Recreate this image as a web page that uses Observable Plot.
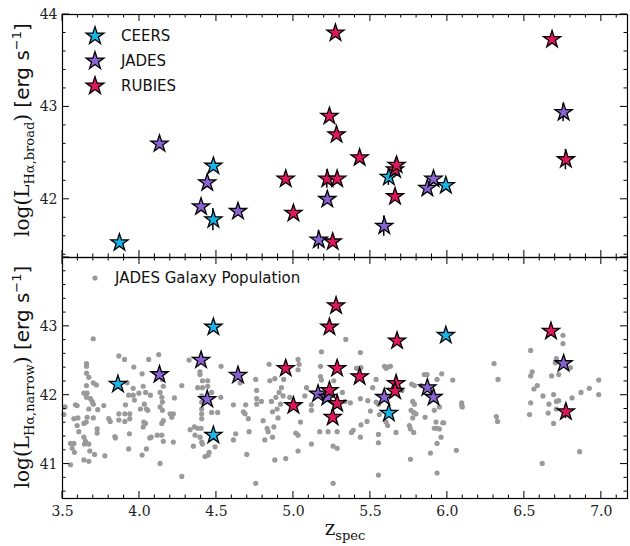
<!DOCTYPE html>
<html><head><meta charset="utf-8">
<script src="https://cdn.jsdelivr.net/npm/d3@7"></script>
<script src="https://cdn.jsdelivr.net/npm/@observablehq/plot@0.6"></script>
<style>
body{margin:0;background:#fff;}
#wrap{position:relative;width:630px;height:546px;}
#wrap svg{display:block;}
</style></head><body><div id="wrap"></div>
<script>
// ---------- data ----------
const surveys = ["CEERS", "JADES", "RUBIES"];
const surveyColors = ["#19b5e8", "#8a63d2", "#e0175f"];

// top panel: broad H-alpha
const broadSurvey = ["CEERS","CEERS","CEERS","CEERS","CEERS",
  "JADES","JADES","JADES","JADES","JADES","JADES","JADES","JADES","JADES","JADES",
  "RUBIES","RUBIES","RUBIES","RUBIES","RUBIES","RUBIES","RUBIES","RUBIES","RUBIES","RUBIES","RUBIES","RUBIES","RUBIES","RUBIES"];
const broadZ = [3.87,4.48,4.48,5.62,5.99,
  4.13,4.44,4.40,4.64,5.165,5.22,5.59,5.87,5.91,6.755,
  4.95,5.00,5.22,5.234,5.255,5.273,5.28,5.284,5.43,5.66,5.67,5.66,6.68,6.77];
const broadLum = [41.53,42.36,41.78,42.24,42.15,
  42.60,42.18,41.92,41.87,41.56,42.00,41.71,42.12,42.22,42.94,
  42.22,41.85,42.22,42.90,41.54,43.80,42.70,42.22,42.45,42.32,42.37,42.03,43.73,42.43];
const broadErr = [0,0,0.12,0.09,0,
  0,0,0,0,0.1,0,0.11,0,0,0.1,
  0,0,0.1,0,0,0,0,0,0,0,0.08,0,0,0.11];

// bottom panel: narrow H-alpha
const narrowSurvey = ["CEERS","CEERS","CEERS","CEERS","CEERS",
  "JADES","JADES","JADES","JADES","JADES","JADES","JADES","JADES","JADES","JADES",
  "RUBIES","RUBIES","RUBIES","RUBIES","RUBIES","RUBIES","RUBIES","RUBIES","RUBIES","RUBIES","RUBIES","RUBIES","RUBIES","RUBIES"];
const narrowZ = [3.86,4.48,4.48,5.62,5.99,
  4.13,4.40,4.44,4.64,5.16,5.22,5.59,5.87,5.91,6.755,
  4.95,5.00,5.234,5.277,5.284,5.43,5.234,5.284,5.255,5.667,5.66,5.673,6.673,6.77];
const narrowLum = [42.16,42.99,41.42,41.74,42.87,
  42.30,42.51,41.94,42.29,42.02,41.97,41.97,42.11,41.97,42.46,
  42.39,41.85,42.99,43.30,42.39,42.27,42.07,41.88,41.68,42.17,42.06,42.79,42.93,41.76];
const narrowErr = [0,0,0,0,0,
  0,0,0,0,0,0,0,0,0,0,
  0,0,0,0,0,0,0,0,0,0,0,0,0,0.1];

// JADES galaxy population (grey points)
const galZ = [3.70,3.866,3.903,4.06,4.125,3.963,4.017,3.656,3.656,3.656,3.671,3.70,3.72,3.656,3.639,3.66,3.656,3.682,3.693,3.70,
  3.671,3.584,3.595,3.768,3.729,3.517,3.509,3.574,3.60,3.66,3.70,3.80,3.81,3.866,3.905,3.937,3.866,3.905,3.937,3.92,
  3.959,4.024,4.04,4.071,3.996,3.93,3.959,3.967,3.909,4.006,4.032,4.045,4.054,4.028,4.039,4.024,3.639,3.654,3.595,3.725,
  3.725,3.606,3.84,3.844,3.935,3.639,3.649,3.643,3.671,3.552,3.574,3.563,3.578,3.677,3.708,3.775,3.93,4.017,4.045,4.067,
  4.076,4.115,3.639,3.671,3.552,
  4.149,4.155,4.134,4.145,4.149,4.134,4.149,4.199,4.22,4.21,4.155,4.145,4.145,4.155,4.22,4.227,4.134,4.275,4.275,4.322,
  4.393,4.393,4.378,4.409,4.443,4.409,4.443,4.469,4.404,4.404,4.404,4.404,4.469,4.508,4.528,4.53,4.404,4.329,4.357,4.378,
  4.40,4.361,4.393,4.404,4.409,4.35,4.491,4.452,4.426,4.447,4.61,4.625,4.61,4.69,4.675,4.686,4.707,4.712,4.697,4.653,
  4.755,4.761,4.761,4.761,4.755,
  4.792,4.803,4.814,4.829,4.836,4.842,4.847,4.857,4.864,4.864,4.873,4.879,4.886,4.879,4.894,4.90,4.907,4.922,4.933,4.916,
  4.937,4.95,4.976,5.015,5.03,5.03,5.03,5.03,5.037,5.046,5.085,5.074,5.117,5.117,5.117,5.182,5.176,5.176,5.182,5.171,
  5.225,5.262,5.258,5.284,5.284,5.318,5.34,5.37,5.388,5.377,5.258,5.41,5.334,
  5.435,5.439,5.418,5.435,5.483,5.515,5.537,5.537,5.50,5.552,5.558,5.478,5.439,5.435,5.552,5.552,5.552,5.591,5.612,5.63,
  5.602,5.602,5.612,5.666,5.705,5.753,5.76,5.781,5.76,5.768,5.786,5.775,5.786,5.764,5.781,5.796,5.775,5.85,5.868,5.829,
  5.933,5.963,5.915,5.948,5.855,5.926,5.97,5.915,5.933,5.948,5.959,5.933,5.89,5.933,6.035,5.976,
  6.093,6.093,6.097,6.058,6.303,6.329,6.318,6.326,6.541,6.551,6.541,6.562,6.584,6.621,6.541,6.534,6.66,6.655,6.616,6.677,
  6.751,6.751,6.708,6.701,6.799,6.723,6.69,6.708,6.723,6.81,6.868,6.922,6.983,6.983,6.708,6.69,6.859];
const galLum = [42.82,42.57,42.52,42.52,42.59,42.41,42.31,42.46,42.42,42.32,42.26,42.18,42.15,42.14,42.03,42.03,41.97,41.95,41.91,41.87,
  41.80,41.86,41.85,41.85,41.79,41.83,41.72,41.66,41.67,41.68,41.67,41.66,41.62,41.73,41.73,41.73,41.64,41.62,41.66,42.18,
  42.10,42.13,42.04,42.00,42.03,42.00,42.00,41.93,41.86,41.80,41.87,41.80,41.78,41.61,41.59,41.54,41.59,41.61,41.56,41.51,
  41.45,41.47,41.40,41.38,41.44,41.39,41.33,41.29,41.29,41.30,41.30,41.23,41.17,41.19,41.14,41.12,41.22,41.13,41.22,41.38,
  41.39,41.42,41.06,41.04,40.99,
  42.23,42.13,42.04,41.97,41.90,41.83,41.78,41.73,41.73,41.68,41.63,41.59,41.42,41.33,41.32,41.96,41.01,42.14,40.82,42.51,
  42.34,42.30,42.11,42.21,42.21,42.11,42.13,42.04,41.99,41.90,41.80,41.73,41.75,41.75,41.97,42.42,41.66,41.50,41.54,41.52,
  41.52,41.42,41.39,41.32,41.29,41.26,41.25,41.17,41.11,41.13,41.86,41.44,41.35,41.86,41.76,41.73,41.66,41.47,41.14,42.18,
  42.23,42.07,41.95,41.87,40.72,
  41.91,41.63,41.35,41.52,41.47,42.45,42.21,41.91,41.76,41.39,41.54,42.24,41.97,41.06,41.80,41.67,42.04,42.11,41.99,41.87,
  42.23,41.08,41.97,41.45,41.42,41.19,42.52,42.37,42.45,41.61,42.11,41.99,41.86,41.78,41.29,42.63,42.42,42.27,42.22,41.47,
  41.47,42.21,41.26,41.23,41.47,42.04,42.81,41.89,41.49,41.46,40.72,42.39,41.91,
  42.62,42.40,42.39,41.95,41.92,42.11,42.23,41.90,41.77,41.87,41.72,41.62,41.57,41.39,41.43,41.31,40.84,42.42,42.41,42.42,
  42.39,41.61,41.56,41.46,42.07,41.56,41.51,41.46,41.07,42.16,42.14,41.91,41.87,41.78,41.75,41.73,41.67,42.30,42.30,42.14,
  42.23,42.31,41.78,41.83,41.68,41.61,41.60,41.52,41.52,41.51,41.39,41.30,41.16,40.87,42.22,41.60,
  41.89,41.85,41.83,41.20,42.46,42.23,41.69,41.62,42.65,42.34,42.28,42.09,42.14,41.99,41.89,41.72,41.87,41.74,41.01,42.28,
  42.87,42.75,42.53,42.47,42.40,42.30,42.01,41.91,41.92,41.96,42.04,42.10,42.22,42.01,41.80,41.59,41.18];

// ticks
const xMajor = [3.5,4.0,4.5,5.0,5.5,6.0,6.5,7.0];
const xMinor = [3.6,3.7,3.8,3.9,4.1,4.2,4.3,4.4,4.6,4.7,4.8,4.9,5.1,5.2,5.3,5.4,5.6,5.7,5.8,5.9,6.1,6.2,6.3,6.4,6.6,6.7,6.8,6.9,7.1];
const topYMajor = [42,43,44];
const topYMinor = [41.4,41.6,41.8,42.2,42.4,42.6,42.8,43.2,43.4,43.6,43.8];
const botYMajor = [41,42,43,44];
const botYLabels = [41,42,43];
const botYMinor = [40.6,40.8,41.2,41.4,41.6,41.8,42.2,42.4,42.6,42.8,43.2,43.4,43.6,43.8];

// ---------- build ----------
const rows = (s, z, l, e) => s.map((d, i) => ({survey: d, z: z[i], lum: l[i], err: e[i]}));
const broad = rows(broadSurvey, broadZ, broadLum, broadErr);
const narrow = rows(narrowSurvey, narrowZ, narrowLum, narrowErr);
const gal = galZ.map((z, i) => ({z, lum: galLum[i]}));
const colorOf = Object.fromEntries(surveys.map((s, i) => [s, surveyColors[i]]));

const W = 630, ML = 62, MR = 3;
const xDomain = [3.5, 7.17];
const MAJ = 7, MIN = 3.5;

function starMarks(data) {
  const withErr = data.filter(d => d.err > 0);
  return [
    Plot.rect(withErr, {x1: "z", x2: "z", y1: d => d.lum - d.err, y2: d => d.lum + d.err,
      insetLeft: -0.75, insetRight: -0.75, fill: "black"}),
    Plot.dot(data, {x: "z", y: "lum", symbol: "star", r: 5.4, fill: "survey", stroke: "black", strokeWidth: 1.3})
  ];
}

const common = {
  width: W, marginLeft: ML, marginRight: MR,
  color: {domain: surveys, range: surveyColors},
  style: {fontFamily: "DejaVu Serif", fontSize: "14px", background: "transparent", overflow: "visible"}
};

const topPlot = Plot.plot({
  ...common,
  height: 257, marginTop: 14, marginBottom: 0,
  x: {domain: xDomain, label: null, axis: null},
  y: {domain: [41.37, 44], label: null},
  marks: [
    ...starMarks(broad),
    Plot.frame({stroke: "black", strokeWidth: 1.2}),
    Plot.axisY(topYMajor, {anchor: "left", tickSize: 0, tickPadding: 5, tickFormat: d => String(d), label: null, fill: "#222"})
  ]
});

const botPlot = Plot.plot({
  ...common,
  height: 289, marginTop: 0, marginBottom: 48,
  x: {domain: xDomain, label: null},
  y: {domain: [40.5, 44], label: null},
  marks: [
    Plot.dot(gal, {x: "z", y: "lum", r: 2.6, fill: "#9a9a9a", stroke: "none"}),
    ...starMarks(narrow),
    Plot.frame({stroke: "black", strokeWidth: 1.2}),
    Plot.axisY(botYLabels, {anchor: "left", tickSize: 0, tickPadding: 5, tickFormat: d => String(d), label: null, fill: "#222"}),
    Plot.axisX(xMajor, {anchor: "bottom", tickSize: 0, tickPadding: 8, tickFormat: d3.format(".1f"), label: null, fill: "#222"})
  ]
});

const wrap = document.getElementById("wrap");
wrap.append(topPlot, botPlot);

// inward ticks on all four sides, positioned with each plot's own scales
function addTicks(svg, yMajor, yMinor, top, bottom) {
  const sx = svg.scale("x"), sy = svg.scale("y");
  const g = d3.select(svg).append("g").attr("fill", "black");
  const left = ML, right = W - MR;
  for (const [vals, len] of [[xMajor, MAJ], [xMinor, MIN]]) {
    for (const v of vals) {
      const px = sx.apply(v);
      g.append("rect").attr("x", px - 0.5).attr("y", bottom - len).attr("width", 1).attr("height", len);
      g.append("rect").attr("x", px - 0.5).attr("y", top).attr("width", 1).attr("height", len);
    }
  }
  for (const [vals, len] of [[yMajor, MAJ], [yMinor, MIN]]) {
    for (const v of vals) {
      const py = sy.apply(v);
      g.append("rect").attr("x", left).attr("y", py - 0.5).attr("width", len).attr("height", 1);
      g.append("rect").attr("x", right - len).attr("y", py - 0.5).attr("width", len).attr("height", 1);
    }
  }
}
addTicks(topPlot, topYMajor, topYMinor, 14, 257);
addTicks(botPlot, botYMajor, botYMinor, 0, 241);

// y-axis titles
function yTitle(svg, cy, sub) {
  const t = d3.select(svg).append("text")
    .attr("transform", `translate(29,${cy}) rotate(-90)`)
    .attr("text-anchor", "middle").attr("fill", "#111")
    .attr("font-family", "DejaVu Serif").attr("font-size", 20);
  t.append("tspan").text("log(L");
  t.append("tspan").attr("font-size", 13).attr("dy", 5).text("Hα," + sub);
  t.append("tspan").attr("dy", -5).text(")");
  t.append("tspan").attr("font-family", "DejaVu Sans").text(" [erg s");
  t.append("tspan").attr("font-family", "DejaVu Sans").attr("font-size", 13).attr("dy", -8).text("−1");
  t.append("tspan").attr("font-family", "DejaVu Sans").attr("dy", 8).text("]");
}
yTitle(topPlot, 130, "broad");
yTitle(botPlot, 120, "narrow");

// x-axis title
{
  const t = d3.select(botPlot).append("text")
    .attr("x", 345).attr("y", 278).attr("text-anchor", "middle").attr("fill", "#111")
    .attr("font-family", "DejaVu Serif").attr("font-size", 20);
  t.append("tspan").text("z");
  t.append("tspan").attr("font-size", 13).attr("dy", 5).text("spec");
}

// legends
{
  const g = d3.select(topPlot).append("g").attr("font-family", "DejaVu Sans").attr("font-size", 15).attr("text-anchor", "start");
  const star = d3.symbol(d3.symbolStar, Math.PI * 5.6 * 5.6)();
  surveys.forEach((s, i) => {
    const y = 36 + i * 25;
    g.append("path").attr("d", star).attr("transform", `translate(95,${y})`)
      .attr("fill", colorOf[s]).attr("stroke", "black").attr("stroke-width", 1.3);
    g.append("text").attr("x", 121).attr("y", y).attr("dy", "0.35em").attr("fill", "#111").text(s);
  });
  const g2 = d3.select(botPlot).append("g").attr("font-family", "DejaVu Sans").attr("font-size", 15).attr("text-anchor", "start");
  g2.append("circle").attr("cx", 95).attr("cy", 21).attr("r", 2.6).attr("fill", "#9a9a9a");
  g2.append("text").attr("x", 115).attr("y", 21).attr("dy", "0.35em").attr("fill", "#111").text("JADES Galaxy Population");
}
</script></body></html>
